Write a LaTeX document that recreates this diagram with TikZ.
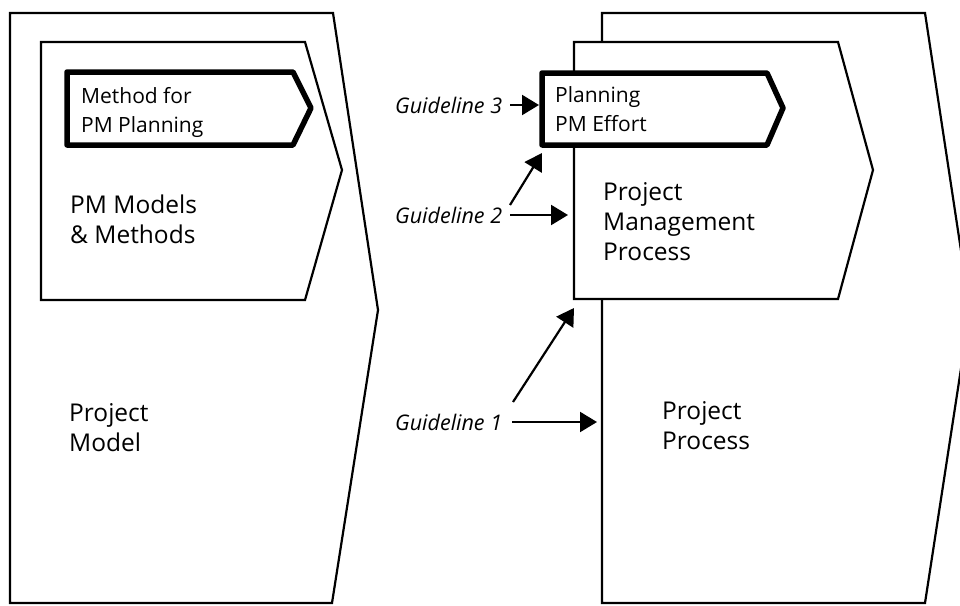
\documentclass[tikz,border=0pt]{standalone}
\usepackage{fontspec}
\setmainfont{Open Sans}
\usetikzlibrary{arrows.meta}
\begin{document}
\begin{tikzpicture}[x=1pt,y=-1pt,
  shapeline/.style={draw=black,line width=2.2pt,fill=white,line join=miter},
  thickbox/.style={draw=black,line width=5.5pt,fill=white,line join=round},
  bigtext/.style={anchor=west,align=left,inner sep=0pt,font=\fontsize{24.5}{30}\selectfont},
  boxtext/.style={anchor=west,align=left,inner sep=0pt,font=\fontsize{21}{29}\selectfont},
  guide/.style={anchor=west,inner sep=0pt,font=\fontsize{21.5}{23}\selectfont\itshape},
  guidearrow/.style={line width=2.2pt,-{Triangle[length=17pt,width=20pt]}}]
\useasboundingbox (0,0) rectangle (960,605);
\clip (0,0) rectangle (960,605);
% left side
\draw[shapeline] (10,13) -- (333,13) -- (378,310) -- (332,603) -- (10,603) -- cycle;
\draw[shapeline] (41,42) -- (305,42) -- (342,170) -- (305,300) -- (41,300) -- cycle;
\draw[thickbox] (67,72) -- (293,72) -- (311,108) -- (293,145) -- (67,145) -- cycle;
\node[boxtext] (method) at (81,112) {Method for\\PM Planning};
\node[bigtext] (pmm) at (70,219) {PM Models\\\& Methods};
\node[bigtext] (pmodel) at (69,428) {Project\\Model};
% right side
\draw[shapeline] (602,13) -- (925,13) -- (970,310) -- (925,603) -- (602,603) -- cycle;
\draw[shapeline] (574,42) -- (838,42) -- (873,170) -- (838,299) -- (574,299) -- cycle;
\draw[thickbox] (542,73) -- (767,73) -- (783,108) -- (767,145) -- (542,145) -- cycle;
\node[boxtext] (plan) at (555,109) {Planning\\PM Effort};
\node[bigtext] (pmp) at (603,222) {Project\\Management\\Process};
\node[bigtext] (pproc) at (662,426) {Project\\Process};
% guidelines
\node[guide] (g3) at (395,105) {Guideline 3};
\node[guide] (g2) at (395,215) {Guideline 2};
\node[guide] (g1) at (395,422) {Guideline 1};
\coordinate (g3s) at (510,105);
\coordinate (g3e) at (539,105);
\coordinate (g2s) at (510,215);
\coordinate (g2e) at (568,215);
\coordinate (g2ds) at (510,205);
\coordinate (g2de) at (542,153);
\coordinate (g1s) at (512,422);
\coordinate (g1e) at (597,422);
\coordinate (g1ds) at (513,402);
\coordinate (g1de) at (574,308);
\draw[guidearrow] (g3s) -- (g3e);
\draw[guidearrow] (g2s) -- (g2e);
\draw[guidearrow] (g2ds) -- (g2de);
\draw[guidearrow] (g1s) -- (g1e);
\draw[guidearrow] (g1ds) -- (g1de);
\end{tikzpicture}
\end{document}
